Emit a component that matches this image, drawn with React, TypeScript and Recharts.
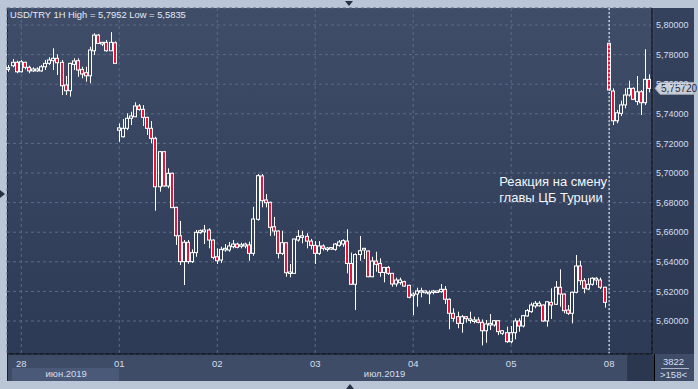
import React from 'react'
import { ComposedChart, Bar, XAxis, YAxis, CartesianGrid, ReferenceLine } from 'recharts'

// hourly USD/TRY candles, 27.06 late hours .. 08.07
const opens = [
  5.7700, 5.7725, 5.7748, 5.7684, 5.7748, 5.7714, 5.7690, 5.7690, 5.7690, 5.7718,
  5.7741, 5.7759, 5.7775, 5.7748, 5.7595, 5.7556, 5.7734, 5.7759, 5.7700, 5.7678,
  5.7657, 5.7826, 5.7932, 5.7872, 5.7883, 5.7826, 5.7880,
  5.7289, 5.7245, 5.7302, 5.7370, 5.7380, 5.7453, 5.7430, 5.7376, 5.7302, 5.7234,
  5.6907, 5.7144, 5.6912, 5.6998, 5.6768, 5.6576, 5.6401, 5.6532, 5.6401, 5.6462,
  5.6597, 5.6603, 5.6615, 5.6547, 5.6434, 5.6412, 5.6480, 5.6480, 5.6502, 5.6520,
  5.6510, 5.6507, 5.6514, 5.6457, 5.6687, 5.6980, 5.6818, 5.6802, 5.6637, 5.6608,
  5.6457, 5.6529, 5.6322, 5.6322, 5.6547, 5.6565, 5.6572, 5.6540, 5.6511, 5.6457,
  5.6507, 5.6484, 5.6490, 5.6484, 5.6511, 5.6520, 5.6540, 5.6389, 5.6248, 5.6449,
  5.6480, 5.6473, 5.6299, 5.6405, 5.6389, 5.6328, 5.6362, 5.6322, 5.6250, 5.6259,
  5.6266, 5.6241, 5.6171, 5.6182, 5.6198, 5.6191, 5.6189, 5.6194, 5.6198,
  5.6198, 5.6214, 5.6147, 5.6052, 5.6029, 5.5984, 5.6029, 5.6007, 5.6000, 5.6007,
  5.5991, 5.5934, 5.5973, 5.5973, 5.6002, 5.5917, 5.5921, 5.5860, 5.5921, 5.6000,
  5.5966, 5.6034, 5.6063, 5.6101, 5.6103, 5.6108, 5.6000, 5.6126, 5.6113, 5.6228,
  5.6182, 5.6074, 5.6052, 5.6194, 5.6372, 5.6272, 5.6216, 5.6248, 5.6277, 5.6277,
  5.6228,
  5.7876, 5.7554, 5.7353, 5.7403, 5.7460, 5.7527, 5.7572, 5.7484, 5.7549, 5.7475, 5.7633
]
const highs = [
  5.7730, 5.7770, 5.7759, 5.7764, 5.7752, 5.7725, 5.7714, 5.7714, 5.7730, 5.7764,
  5.7782, 5.7843, 5.7802, 5.7764, 5.7655, 5.7745, 5.7775, 5.7775, 5.7718, 5.7718,
  5.7853, 5.7944, 5.7939, 5.7886, 5.7899, 5.7952, 5.7890,
  5.7335, 5.7365, 5.7403, 5.7414, 5.7478, 5.7466, 5.7459, 5.7380, 5.7351, 5.7245,
  5.7149, 5.7149, 5.7032, 5.7003, 5.6772, 5.6676, 5.6547, 5.6547, 5.6484, 5.6615,
  5.6618, 5.6649, 5.6626, 5.6552, 5.6491, 5.6502, 5.6520, 5.6534, 5.6547, 5.6529,
  5.6529, 5.6529, 5.6536, 5.6772, 5.6993, 5.6993, 5.6858, 5.6806, 5.6703, 5.6612,
  5.6610, 5.6532, 5.6385, 5.6556, 5.6615, 5.6610, 5.6593, 5.6555, 5.6540, 5.6540,
  5.6518, 5.6500, 5.6500, 5.6527, 5.6547, 5.6552, 5.6620, 5.6462, 5.6457, 5.6574,
  5.6494, 5.6476, 5.6434, 5.6468, 5.6423, 5.6365, 5.6371, 5.6325, 5.6293, 5.6293,
  5.6272, 5.6245, 5.6194, 5.6225, 5.6225, 5.6207, 5.6207, 5.6210, 5.6205,
  5.6250, 5.6236, 5.6153, 5.6086, 5.6063, 5.6041, 5.6034, 5.6063, 5.6029, 5.6025,
  5.6011, 5.6007, 5.6047, 5.6007, 5.6007, 5.5939, 5.5962, 5.5966, 5.6018, 5.6018,
  5.6041, 5.6081, 5.6124, 5.6135, 5.6135, 5.6112, 5.6135, 5.6221, 5.6270, 5.6349,
  5.6187, 5.6108, 5.6198, 5.6446, 5.6407, 5.6289, 5.6289, 5.6295, 5.6295, 5.6293,
  5.6232,
  5.7880, 5.7572, 5.7426, 5.7489, 5.7572, 5.7624, 5.7579, 5.7655, 5.7561, 5.7836, 5.7667
]
const lows = [
  5.7684, 5.7714, 5.7674, 5.7680, 5.7700, 5.7674, 5.7684, 5.7684, 5.7684, 5.7696,
  5.7730, 5.7696, 5.7662, 5.7527, 5.7527, 5.7516, 5.7696, 5.7650, 5.7640, 5.7617,
  5.7606, 5.7797, 5.7872, 5.7858, 5.7820, 5.7826, 5.7741,
  5.7211, 5.7240, 5.7290, 5.7324, 5.7378, 5.7421, 5.7318, 5.7257, 5.7201, 5.6745,
  5.6874, 5.6907, 5.6897, 5.6764, 5.6514, 5.6378, 5.6243, 5.6387, 5.6392, 5.6434,
  5.6590, 5.6520, 5.6491, 5.6416, 5.6385, 5.6392, 5.6468, 5.6468, 5.6491, 5.6491,
  5.6491, 5.6491, 5.6407, 5.6441, 5.6678, 5.6768, 5.6768, 5.6575, 5.6576, 5.6423,
  5.6446, 5.6299, 5.6295, 5.6318, 5.6536, 5.6525, 5.6491, 5.6484, 5.6385, 5.6446,
  5.6476, 5.6470, 5.6480, 5.6475, 5.6502, 5.6502, 5.6322, 5.6243, 5.6074, 5.6407,
  5.6419, 5.6296, 5.6296, 5.6333, 5.6299, 5.6261, 5.6311, 5.6232, 5.6232, 5.6245,
  5.6232, 5.6153, 5.6040, 5.6097, 5.6160, 5.6185, 5.6114, 5.6180, 5.6190,
  5.6191, 5.6115, 5.5944, 5.5995, 5.5951, 5.5921, 5.5989, 5.5984, 5.5984, 5.5984,
  5.5835, 5.5853, 5.5939, 5.5962, 5.5905, 5.5905, 5.5853, 5.5849, 5.5876, 5.5928,
  5.5957, 5.6029, 5.6056, 5.6086, 5.6097, 5.5995, 5.5962, 5.6014, 5.6108, 5.6097,
  5.6052, 5.6041, 5.5984, 5.6187, 5.6243, 5.6187, 5.6209, 5.6239, 5.6243, 5.6216,
  5.6090,
  5.7556, 5.7324, 5.7336, 5.7385, 5.7437, 5.7516, 5.7493, 5.7459, 5.7392, 5.7459, 5.7545
]
const closes = [
  5.7712, 5.7748, 5.7684, 5.7752, 5.7714, 5.7690, 5.7703, 5.7703, 5.7718, 5.7741,
  5.7764, 5.7775, 5.7745, 5.7590, 5.7556, 5.7741, 5.7757, 5.7696, 5.7669, 5.7657,
  5.7831, 5.7932, 5.7876, 5.7883, 5.7826, 5.7883, 5.7741,
  5.7305, 5.7302, 5.7370, 5.7385, 5.7453, 5.7430, 5.7376, 5.7302, 5.7234, 5.6907,
  5.7144, 5.6912, 5.6998, 5.6766, 5.6576, 5.6401, 5.6532, 5.6401, 5.6462, 5.6599,
  5.6610, 5.6615, 5.6547, 5.6430, 5.6407, 5.6484, 5.6491, 5.6507, 5.6520, 5.6498,
  5.6515, 5.6520, 5.6457, 5.6689, 5.6982, 5.6813, 5.6799, 5.6633, 5.6608, 5.6457,
  5.6529, 5.6326, 5.6331, 5.6554, 5.6572, 5.6576, 5.6540, 5.6511, 5.6457, 5.6507,
  5.6491, 5.6493, 5.6496, 5.6520, 5.6534, 5.6543, 5.6389, 5.6248, 5.6449, 5.6475,
  5.6491, 5.6299, 5.6405, 5.6383, 5.6328, 5.6362, 5.6322, 5.6250, 5.6277, 5.6277,
  5.6236, 5.6160, 5.6182, 5.6203, 5.6205, 5.6203, 5.6194, 5.6203, 5.6203,
  5.6214, 5.6147, 5.6052, 5.6018, 5.5984, 5.6029, 5.6016, 5.6014, 5.6007, 5.5991,
  5.5934, 5.5980, 5.5984, 5.6002, 5.5928, 5.5934, 5.5860, 5.5921, 5.6000, 5.5966,
  5.6036, 5.6070, 5.6108, 5.6120, 5.6120, 5.6000, 5.6130, 5.6108, 5.6228, 5.6182,
  5.6070, 5.6052, 5.6194, 5.6372, 5.6272, 5.6221, 5.6248, 5.6289, 5.6289, 5.6228,
  5.6126,
  5.7561, 5.7353, 5.7407, 5.7460, 5.7527, 5.7572, 5.7498, 5.7549, 5.7475, 5.7633, 5.7572
]

const dayTicks = [4, 28, 52, 76, 100, 124, 148]
const dayLabels = ['28', '01', '02', '03', '04', '05', '08']
const monthTicks = [15, 93]
const monthLabels = ['июн.2019', 'июл.2019']
const priceTicks = [5.6, 5.62, 5.64, 5.66, 5.68, 5.7, 5.72, 5.74, 5.76, 5.78, 5.8]
const lastPrice = 5.7572
const eventBar = 148

const data = opens.map((o, k) => ({
  i: k + 1,
  open: o,
  high: highs[k],
  low: lows[k],
  close: closes[k]
}))

const FONT = '"Liberation Sans", Arial, sans-serif'
const RED = '#e8133a'
const AXIS_TEXT = '#d3def0'

const Candle = (props: any) => {
  const { x, y, width, height, payload } = props
  if (!payload || !height) return null
  const { open, close, high, low } = payload
  const k = height / (high - low)
  const toY = (v: number) => y + (high - v) * k
  const cx = Math.floor(x + width / 2) + 0.5
  const top = toY(Math.max(open, close))
  const bodyH = Math.max(toY(Math.min(open, close)) - top, 1.5)
  return (
    <g>
      <line x1={cx} x2={cx} y1={y} y2={top} stroke="#fff" />
      <line x1={cx} x2={cx} y1={top + bodyH} y2={y + height} stroke="#fff" />
      <rect
        x={cx - 2}
        y={top}
        width={3}
        height={bodyH}
        fill={close < open ? RED : 'none'}
        stroke="#fff"
        strokeWidth={1}
      />
    </g>
  )
}

// last price tag sitting on the right axis
const PriceTag = ({ viewBox }: any) => {
  const x = viewBox.x + viewBox.width + 3
  const y = viewBox.y
  return (
    <g>
      <polygon
        points={`${x},${y} ${x + 5},${y - 6} ${x + 39},${y - 6} ${x + 39},${y + 6} ${x + 5},${y + 6}`}
        fill="#c9ced7"
        stroke="#9aa3b3"
      />
      <text x={x + 6} y={y + 3.5} fontSize={10} fontFamily={FONT} fill="#1b2840">
        {lastPrice.toFixed(5).replace('.', ',')}
      </text>
    </g>
  )
}

const EventNote = ({ viewBox }: any) => {
  const x = viewBox.x - 110
  const y = viewBox.y
  return (
    <g fontFamily={FONT} fontSize={13} fill="#f2f5fa">
      <text x={x} y={y + 178}>Реакция на смену</text>
      <text x={x} y={y + 194}>главы ЦБ Турции</text>
    </g>
  )
}

const tri = (style: React.CSSProperties) => (
  <div style={{ position: 'absolute', width: 0, height: 0, ...style }} />
)

export default function App() {
  return (
    <div
      style={{
        position: 'fixed',
        left: 0,
        top: 0,
        width: 698,
        height: 389,
        background: '#bac6d6',
        overflow: 'hidden',
        fontFamily: FONT
      }}
    >
      {/* panels */}
      <div style={{ position: 'absolute', left: 7, top: 8, width: 647, height: 346, background: 'linear-gradient(#3f4d69, #2d3a55)' }} />
      <div style={{ position: 'absolute', left: 654, top: 8, width: 40, height: 346, background: 'linear-gradient(#34425d, #2c3852)' }} />
      <div style={{ position: 'absolute', left: 7, top: 354, width: 687, height: 27, background: '#3e4c68' }} />
      <div style={{ position: 'absolute', left: 12, top: 368, width: 107, height: 13, background: '#4a5977' }} />
      <div style={{ position: 'absolute', left: 627, top: 355, width: 27, height: 26, background: '#2b374f' }} />
      <div style={{ position: 'absolute', left: 7, top: 8, width: 1, height: 373, background: '#1a2130' }} />
      <div style={{ position: 'absolute', left: 654, top: 354, width: 1, height: 27, background: '#000' }} />

      <div style={{ position: 'absolute', left: 0, top: 0 }}>
        <ComposedChart
          width={698}
          height={389}
          data={data}
          margin={{ top: 8, right: 6, bottom: 8, left: 7 }}
          barCategoryGap={0}
        >
          <CartesianGrid stroke="#5b6b88" strokeDasharray="3 3" />
          <XAxis
            dataKey="i"
            ticks={dayTicks}
            interval={0}
            height={14}
            tickFormatter={(v) => dayLabels[dayTicks.indexOf(v)] ?? ''}
            axisLine={{ stroke: '#000' }}
            tickLine={false}
            tickSize={0}
            tickMargin={6}
            tick={{ fill: AXIS_TEXT, fontSize: 9.5, fontFamily: FONT }}
          />
          <XAxis
            xAxisId="m"
            dataKey="i"
            ticks={monthTicks}
            interval={0}
            height={13}
            tickFormatter={(v) => monthLabels[monthTicks.indexOf(v)] ?? ''}
            axisLine={false}
            tickLine={false}
            tickSize={0}
            tickMargin={2}
            tick={{ fill: AXIS_TEXT, fontSize: 9.5, fontFamily: FONT }}
          />
          <YAxis
            orientation="right"
            type="number"
            domain={[5.5777, 5.8115]}
            allowDataOverflow
            ticks={priceTicks}
            interval={0}
            width={40}
            tickFormatter={(v) => v.toFixed(5).replace('.', ',')}
            axisLine={{ stroke: '#000' }}
            tickLine={false}
            tickSize={0}
            tickMargin={4}
            tick={{ fill: AXIS_TEXT, fontSize: 9, fontFamily: FONT }}
          />
          <Bar
            dataKey={(d: any) => [d.low, d.high]}
            shape={(p: any) => <Candle {...p} />}
            isAnimationActive={false}
          />
          <ReferenceLine
            x={eventBar}
            stroke="#ffffff"
            strokeDasharray="2 2"
            label={{ content: (p: any) => <EventNote viewBox={p.viewBox} /> }}
          />
          <ReferenceLine
            y={lastPrice}
            stroke="none"
            label={{ content: (p: any) => <PriceTag viewBox={p.viewBox} /> }}
          />
        </ComposedChart>
      </div>

      <div style={{ position: 'absolute', left: 10, top: 9, fontSize: 9.4, color: '#e4ebf6', whiteSpace: 'nowrap' }}>
        USD/TRY 1H High = 5,7952 Low = 5,5835
      </div>
      <div style={{ position: 'absolute', left: 655, top: 356, width: 37, textAlign: 'center', fontSize: 9.5, color: AXIS_TEXT, lineHeight: '11px' }}>
        3822
      </div>
      <div style={{ position: 'absolute', left: 661, top: 368, width: 28, height: 1, background: '#aab6c8' }} />
      <div style={{ position: 'absolute', left: 655, top: 369, width: 37, textAlign: 'center', fontSize: 9.5, color: AXIS_TEXT, lineHeight: '11px' }}>
        {'>158<'}
      </div>

      {tri({ left: 345, top: 1, borderLeft: '4px solid transparent', borderRight: '4px solid transparent', borderTop: '5px solid #243044' })}
      {tri({ left: 346, top: 384, borderLeft: '4px solid transparent', borderRight: '4px solid transparent', borderBottom: '5px solid #243044' })}
      {tri({ left: 0, top: 190, borderTop: '4px solid transparent', borderBottom: '4px solid transparent', borderLeft: '5px solid #243044' })}
    </div>
  )
}
